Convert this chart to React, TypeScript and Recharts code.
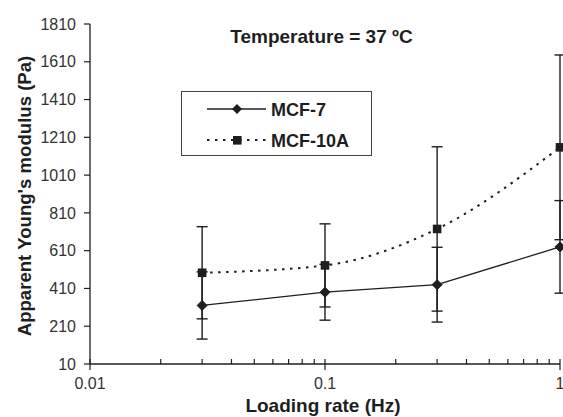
import React from "react";
import { LineChart, Line, XAxis, YAxis, ErrorBar, Label } from "recharts";

// Loading rate (Hz)
const rates = [0.03, 0.1, 0.3, 1];
// Apparent Young's modulus (Pa)
const mcf7 = [320, 390, 430, 630];
const mcf7Err = [178, 148, 198, 245];
const mcf10a = [493, 532, 725, 1157];
const mcf10aErr = [244, 220, 435, 489];

const yTicks = [10, 210, 410, 610, 810, 1010, 1210, 1410, 1610, 1810];
const xMajorTicks = [0.01, 0.1, 1];
const xMinorTicks = [
  0.02, 0.03, 0.04, 0.05, 0.06, 0.07, 0.08, 0.09,
  0.2, 0.3, 0.4, 0.5, 0.6, 0.7, 0.8, 0.9,
];

const title = "Temperature = 37 ºC";
const xTitle = "Loading rate (Hz)";
const yTitle = "Apparent Young's modulus (Pa)";
const seriesNames = ["MCF-7", "MCF-10A"];

const rows = rates.map((r, i) => ({
  rate: r,
  a: mcf7[i],
  aErr: mcf7Err[i],
  b: mcf10a[i],
  bErr: mcf10aErr[i],
}));

const FONT = "'Liberation Sans', Arial, sans-serif";
const INK = "#1e1e1e";

const allXTicks = [...xMajorTicks, ...xMinorTicks].sort((p, q) => p - q);

const XTick = (props: any) => {
  const { x, y, payload } = props;
  const v = payload.value;
  const major = xMajorTicks.some((m) => Math.abs(m - v) < 1e-9);
  return (
    <g>
      <line x1={x} x2={x} y1={y - 5} y2={major ? y + 6 : y} stroke={INK} strokeWidth={1.2} />
      {major && (
        <text x={x} y={y + 25} textAnchor="middle" fontSize={16} fill="#333" fontFamily={FONT}>
          {String(v)}
        </text>
      )}
    </g>
  );
};

const Diamond = (props: any) => {
  const { cx, cy, index } = props;
  if (cx == null || cy == null) return <g key={`d${index}`} />;
  const r = 5;
  return (
    <path
      key={`d${index}`}
      d={`M${cx},${cy - r} L${cx + r},${cy} L${cx},${cy + r} L${cx - r},${cy} Z`}
      fill={INK}
      stroke={INK}
    />
  );
};

const Square = (props: any) => {
  const { cx, cy, index } = props;
  if (cx == null || cy == null) return <g key={`s${index}`} />;
  const h = 4.3;
  return <rect key={`s${index}`} x={cx - h} y={cy - h} width={2 * h} height={2 * h} fill={INK} />;
};

const YTitle = (props: any) => {
  const vb = props.viewBox || {};
  const cx = vb.x + 24;
  const cy = vb.y + vb.height / 2 + 2;
  return (
    <text
      x={cx}
      y={cy}
      transform={`rotate(-90 ${cx} ${cy})`}
      textAnchor="middle"
      dominantBaseline="central"
      fontSize={18.6}
      fontWeight="bold"
      fill={INK}
      fontFamily={FONT}
    >
      {yTitle}
    </text>
  );
};

const XTitle = (props: any) => {
  const vb = props.viewBox || {};
  return (
    <text
      x={vb.x + vb.width / 2 - 2}
      y={vb.y + 48}
      textAnchor="middle"
      fontSize={19}
      fontWeight="bold"
      fill={INK}
      fontFamily={FONT}
    >
      {xTitle}
    </text>
  );
};

const LegendBox = () => (
  <div
    style={{
      position: "absolute",
      left: 181,
      top: 91,
      width: 189,
      height: 63,
      border: "1.3px solid #444",
      background: "#fff",
      fontFamily: FONT,
    }}
  >
    <svg width={189} height={63} style={{ position: "absolute", left: 0, top: 0 }}>
      <line x1={25} x2={84} y1={17} y2={17} stroke={INK} strokeWidth={1.3} />
      <path d="M55,12 L60,17 L55,22 L50,17 Z" fill={INK} />
      <line x1={25} x2={84} y1={48} y2={48} stroke={INK} strokeWidth={2} strokeDasharray="2.5 5.5" />
      <rect x={51} y={44} width={8.6} height={8.6} fill={INK} />
      <text x={89} y={24} fontSize={18} fontWeight="bold" fill={INK} fontFamily={FONT}>
        {seriesNames[0]}
      </text>
      <text x={89} y={55} fontSize={18} fontWeight="bold" fill={INK} fontFamily={FONT}>
        {seriesNames[1]}
      </text>
    </svg>
  </div>
);

export default function App() {
  return (
    <div style={{ position: "absolute", left: 0, top: 0, width: 563, height: 417, background: "#fff" }}>
      <LineChart
        width={563}
        height={417}
        data={rows}
        margin={{ top: 24, right: 3, bottom: 0, left: 0 }}
      >
        <XAxis
          dataKey="rate"
          type="number"
          scale="log"
          domain={[0.01, 1]}
          ticks={allXTicks}
          interval={0}
          tick={<XTick />}
          tickLine={false}
          tickSize={0}
          tickMargin={0}
          height={53}
          axisLine={{ stroke: INK, strokeWidth: 1.3 }}
          label={<Label content={<XTitle />} />}
        />
        <YAxis
          type="number"
          domain={[10, 1810]}
          ticks={yTicks}
          interval={0}
          width={90}
          tickSize={6}
          tickMargin={8}
          tick={{ fontSize: 16, fill: "#333", fontFamily: FONT }}
          tickLine={{ stroke: INK, strokeWidth: 1.2 }}
          axisLine={{ stroke: INK, strokeWidth: 1.3 }}
          label={<Label content={<YTitle />} />}
        />
        <Line
          dataKey="a"
          name={seriesNames[0]}
          type="linear"
          stroke={INK}
          strokeWidth={1.3}
          dot={Diamond}
          activeDot={false}
          isAnimationActive={false}
        >
          <ErrorBar dataKey="aErr" direction="y" width={5.5} stroke={INK} strokeWidth={1.4} isAnimationActive={false} />
        </Line>
        <Line
          dataKey="b"
          name={seriesNames[1]}
          type="monotone"
          stroke={INK}
          strokeWidth={2}
          strokeDasharray="2.5 5.5"
          dot={Square}
          activeDot={false}
          isAnimationActive={false}
        >
          <ErrorBar dataKey="bErr" direction="y" width={5.5} stroke={INK} strokeWidth={1.4} isAnimationActive={false} />
        </Line>
      </LineChart>
      <div
        style={{
          position: "absolute",
          left: 0,
          width: 643,
          top: 26,
          textAlign: "center",
          fontFamily: FONT,
          fontSize: 19,
          fontWeight: "bold",
          color: INK,
          whiteSpace: "nowrap",
        }}
      >
        {title}
      </div>
      <LegendBox />
    </div>
  );
}
